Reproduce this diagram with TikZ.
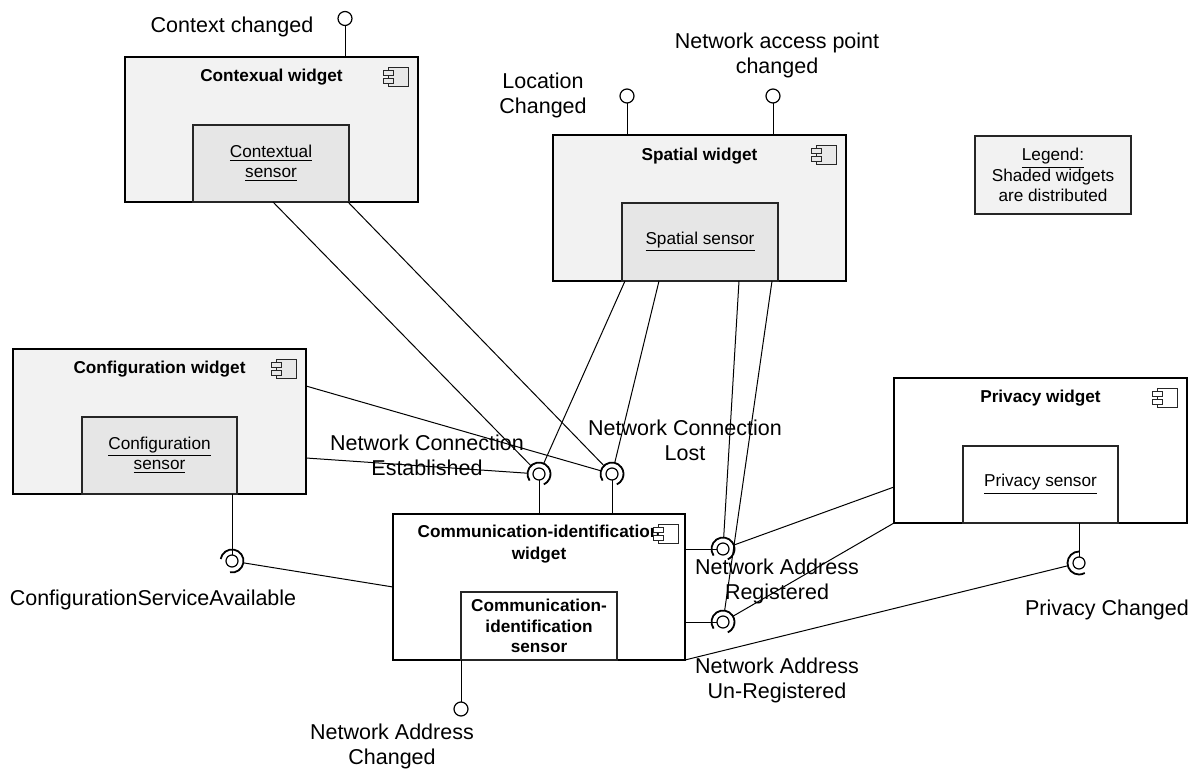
\documentclass[tikz,border=0pt]{standalone}
\usepackage{fontspec}
\setmainfont{Liberation Sans}
\usetikzlibrary{calc}

\definecolor{shade}{RGB}{242,242,242}
\definecolor{sensorshade}{RGB}{230,230,230}
\definecolor{iconshade}{RGB}{232,232,232}

% component icon: body top-left corner at (#1,#2), filled with #3
\newcommand{\compicon}[3]{%
  \draw[line width=0.5pt, draw=black!85, fill=#3] (#1,#2) rectangle ++(20,19);
  \draw[line width=0.5pt, draw=black!85, fill=#3] ($(#1,#2)+(-5,3)$) rectangle ++(10,5);
  \draw[line width=0.5pt, draw=black!85, fill=#3] ($(#1,#2)+(-5,11)$) rectangle ++(10,5);
}

\begin{document}
\begin{tikzpicture}[x=0.5pt,y=-0.5pt,
  widget/.style={draw=black, line width=1pt, anchor=north west, inner sep=0pt, outer sep=0pt,
                 minimum width=146.5pt, minimum height=72.5pt},
  sensorbox/.style={draw=black!85, line width=0.7pt, anchor=north west, inner sep=0pt, outer sep=0pt,
                 minimum width=78pt, minimum height=38.5pt, align=center,
                 font=\fontsize{8.6pt}{10.2pt}\selectfont},
  conn/.style={line width=0.5pt},
  ball/.style={circle, draw, line width=0.6pt, fill=white, inner sep=0pt, outer sep=0pt, minimum size=6pt},
  lolli/.style={circle, draw, line width=0.6pt, fill=white, inner sep=0pt, outer sep=0pt, minimum size=7pt},
  sock/.style={circle, inner sep=0pt, outer sep=0pt, minimum size=11.5pt},
  cup/.style={line width=0.9pt},
  lbl/.style={font=\fontsize{10.75pt}{12.5pt}\selectfont, align=center, inner sep=0pt},
  ttl/.style={font=\fontsize{8.6pt}{11pt}\selectfont\bfseries, align=center, inner sep=0pt},
]
\useasboundingbox (0,0) rectangle (1200,771);

% ---------- widgets ----------
\node[widget, fill=shade] (ctx) at (125,57) {};
\node[sensorbox, fill=sensorshade] (ctxs) at (193,125) {\underline{Contextual}\\\underline{sensor}};
\node[ttl] (ctxt) at (271.5,77) {Contexual widget};
\compicon{388}{67}{iconshade}

\node[widget, fill=shade, minimum height=73pt] (sp) at (553,135) {};
\node[sensorbox, fill=sensorshade, minimum height=39pt] (sps) at (622,203) {\underline{Spatial sensor}};
\node[ttl] (spt) at (699.5,156) {Spatial widget};
\compicon{816}{145}{iconshade}

\node[widget, fill=shade] (cfg) at (13,349) {};
\node[sensorbox, fill=sensorshade, minimum width=77.5pt] (cfgs) at (82,417) {\underline{Configuration}\\\underline{sensor}};
\node[ttl] (cfgt) at (159.5,369) {Configuration widget};
\compicon{276}{359}{iconshade}

\node[widget, fill=white, minimum width=146pt, minimum height=73pt] (comm) at (393,514) {};
\node[sensorbox, fill=white, minimum height=34pt, font=\fontsize{8.6pt}{10.25pt}\selectfont\bfseries] (comms) at (461,592)
  {Communication-\\identification\\sensor};
\node[ttl] (commt) at (539,544) {Communication-identification\\widget};
\compicon{658}{524}{white}

\node[widget, fill=white] (priv) at (894,378) {};
\node[sensorbox, fill=white, minimum width=77.5pt] (privs) at (963,446) {\underline{Privacy sensor}};
\node[ttl] (privt) at (1040.5,398) {Privacy widget};
\compicon{1157}{388}{white}

\node[sensorbox, fill=shade, minimum height=39pt, font=\fontsize{8.6pt}{10.25pt}\selectfont] (legend) at (975,136)
  {\underline{Legend:}\\Shaded widgets\\are distributed};

% ---------- provided interfaces (lollipops) ----------
\node[lolli] (ccb) at (345,18.5) {};
\draw[conn] (ccb) -- (ccb |- ctx.north);
\node[lolli] (lcb) at (627,96) {};
\draw[conn] (lcb) -- (lcb |- sp.north);
\node[lolli] (napb) at (773,96) {};
\draw[conn] (napb) -- (napb |- sp.north);
\node[lolli] (nacb) at (461,709) {};
\draw[conn] (nacb) -- (nacb |- comm.south);

% ---------- assembly sockets ----------
\node[sock] (nce) at (539,474) {};
\node[ball] (nceb) at (nce) {};
\draw[cup] (nce.center) ++(215:5.75pt) arc[start angle=215, end angle=-65, radius=5.75pt];
\draw[conn] (nceb) -- (nceb |- comm.north);

\node[sock] (ncl) at (612,474) {};
\node[ball] (nclb) at (ncl) {};
\draw[cup] (ncl.center) ++(215:5.75pt) arc[start angle=215, end angle=-65, radius=5.75pt];
\draw[conn] (nclb) -- (nclb |- comm.north);

\node[sock] (nar) at (723,549) {};
\node[ball] (narb) at (nar) {};
\draw[cup] (nar.center) ++(215:5.75pt) arc[start angle=215, end angle=-65, radius=5.75pt];
\draw[conn] (narb) -- (narb -| comm.east);

\node[sock] (nau) at (723,622) {};
\node[ball] (naub) at (nau) {};
\draw[cup] (nau.center) ++(215:5.75pt) arc[start angle=215, end angle=-65, radius=5.75pt];
\draw[conn] (naub) -- (naub -| comm.east);

\node[sock] (csa) at (232,561) {};
\node[ball] (csab) at (csa) {};
\draw[cup] (csa.center) ++(170:5.75pt) arc[start angle=170, end angle=-100, radius=5.75pt];
\draw[conn] (csab) -- (csab |- cfg.south);

\node[sock] (pc) at (1079,563) {};
\node[ball] (pcb) at (pc) {};
\draw[cup] (pc.center) ++(90:5.75pt) arc[start angle=90, end angle=300, radius=5.75pt];
\draw[conn] (pcb) -- (pcb |- priv.south);

% ---------- connectors ----------
\draw[conn] ($(ctxs.south west)+(80,0)$) -- (nce);
\draw[conn] ($(ctxs.south west)+(155,0)$) -- (ncl);
\draw[conn] ($(sps.south west)+(3,0)$) -- (nce);
\draw[conn] ($(sps.south west)+(37,0)$) -- (ncl);
\draw[conn] ($(sps.south west)+(117,0)$) -- (nar);
\draw[conn] ($(sps.south west)+(150,0)$) -- (nau);
\draw[conn] ($(cfg.north east)+(0,37)$) -- (ncl);
\draw[conn] ($(cfg.north east)+(0,109)$) -- (nce);
\draw[conn] (csa) -- ($(comm.north west)+(0,73)$);
\draw[conn] ($(priv.north west)+(0,109)$) -- (nar);
\draw[conn] (priv.south west) -- (nau);
\draw[conn] (pc) -- (comm.south east);

% ---------- interface labels ----------
\node[lbl] (ccl) at (232,27) {Context changed};
\node[lbl] (lcl) at (543,95) {Location\\Changed};
\node[lbl] (napl) at (777,55.5) {Network access point\\changed};
\node[lbl] (ncel) at (427,455) {Network Connection\\Established};
\node[lbl] (ncll) at (685,440) {Network Connection\\Lost};
\node[lbl] (narl) at (777,581) {Network Address\\Registered};
\node[lbl] (naul) at (777,680) {Network Address\\Un-Registered};
\node[lbl] (nacl) at (392,746) {Network Address\\Changed};
\node[lbl] (csal) at (153,600) {ConfigurationServiceAvailable};
\node[lbl] (pcl) at (1107,610) {Privacy Changed};
\end{tikzpicture}
\end{document}
